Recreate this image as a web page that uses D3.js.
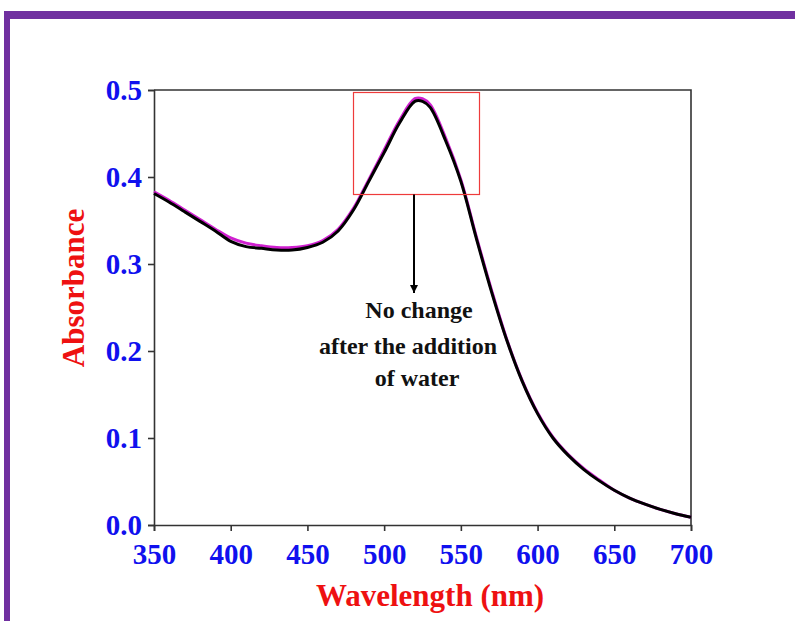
<!DOCTYPE html>
<html>
<head>
<meta charset="utf-8">
<script src="https://cdn.jsdelivr.net/npm/d3@7"></script>
<style>
    body { margin: 0; background: #fff; }
    svg { display: block; }
    text { font-family: "Liberation Serif", "Times New Roman", serif; font-weight: bold; }
</style>
</head>
<body>
<svg width="795" height="621"></svg>
<script>
let wavelengths = [350, 360, 370, 380, 390, 400, 410, 420, 430, 440, 450, 460, 470, 480, 490, 500, 510, 520, 525, 530, 540, 550, 560, 570, 580, 590, 600, 610, 620, 630, 640, 650, 660, 670, 680, 690, 700];
let absorbanceBefore = [0.383, 0.373, 0.362, 0.351, 0.340, 0.330, 0.324, 0.321, 0.319, 0.319, 0.321, 0.327, 0.340, 0.364, 0.397, 0.431, 0.465, 0.490, 0.490, 0.483, 0.445, 0.397, 0.332, 0.270, 0.213, 0.166, 0.129, 0.101, 0.081, 0.065, 0.052, 0.040, 0.031, 0.024, 0.018, 0.013, 0.009];
let absorbanceAfter = [0.381, 0.371, 0.360, 0.349, 0.338, 0.326, 0.320, 0.318, 0.316, 0.316, 0.319, 0.325, 0.338, 0.362, 0.395, 0.428, 0.462, 0.487, 0.487, 0.480, 0.442, 0.395, 0.330, 0.268, 0.212, 0.165, 0.128, 0.100, 0.080, 0.064, 0.051, 0.040, 0.031, 0.024, 0.018, 0.013, 0.009];
let xTicks = [350, 400, 450, 500, 550, 600, 650, 700];
let yTicks = [0.0, 0.1, 0.2, 0.3, 0.4, 0.5];
let noteLines = ["No change", "after the addition", "of water"];

let svg = d3.select("svg");

// purple frame, only top and left edges show
svg.append("rect").attr("x", 4).attr("y", 11).attr("width", 791).attr("height", 8).attr("fill", "#7030a0");
svg.append("rect").attr("x", 4).attr("y", 11).attr("width", 6).attr("height", 610).attr("fill", "#7030a0");

let plotLeft = 154, plotRight = 691, plotTop = 90, plotBottom = 525;
let x = d3.scaleLinear().domain([350, 700]).range([plotLeft, plotRight]);
let y = d3.scaleLinear().domain([0, 0.5]).range([plotBottom, plotTop]);

let xAxis = svg.append("g")
    .attr("transform", `translate(0, ${plotBottom})`)
    .call(d3.axisBottom(x).tickValues(xTicks).tickSize(6).tickPadding(6).tickFormat(d3.format("d")));
let yAxis = svg.append("g")
    .attr("transform", `translate(${plotLeft}, 0)`)
    .call(d3.axisLeft(y).tickValues(yTicks).tickSize(6).tickPadding(6).tickFormat(d3.format(".1f")));

for (let axis of [xAxis, yAxis]) {
    axis.attr("font-family", "Liberation Serif").attr("font-size", 29).attr("font-weight", "bold");
    axis.select(".domain").attr("stroke", "#333").attr("stroke-width", 1.6);
    axis.selectAll(".tick line").attr("stroke", "#333").attr("stroke-width", 1.6);
    axis.selectAll(".tick text").attr("fill", "#1010ee");
}
xAxis.selectAll(".tick text").attr("dy", "0.93em");
yAxis.selectAll(".tick text").attr("dy", "0.34em");

// top and right frame lines
svg.append("path")
    .attr("d", `M${plotLeft},${plotTop}H${plotRight}V${plotBottom}`)
    .attr("fill", "none").attr("stroke", "#333").attr("stroke-width", 1.6);

let line = d3.line()
    .x((d, i) => x(wavelengths[i]))
    .y(d => y(d))
    .curve(d3.curveCatmullRom.alpha(0.5));

svg.append("path").datum(absorbanceBefore)
    .attr("d", line).attr("fill", "none").attr("stroke", "#d020d0").attr("stroke-width", 3);
svg.append("path").datum(absorbanceAfter)
    .attr("d", line).attr("fill", "none").attr("stroke", "#000").attr("stroke-width", 3);

// highlight box around the peak
let boxX0 = Math.round(x(480)) + 0.5, boxX1 = Math.round(x(562)) + 0.5;
let boxY0 = Math.round(y(0.496)) - 0.5, boxY1 = Math.round(y(0.381)) + 0.5;
svg.append("rect")
    .attr("x", boxX0).attr("y", boxY0)
    .attr("width", boxX1 - boxX0).attr("height", boxY1 - boxY0)
    .attr("fill", "none").attr("stroke", "#ee3b3b").attr("stroke-width", 1.2);

svg.append("defs").append("marker")
    .attr("id", "head").attr("viewBox", "0 0 10 10")
    .attr("refX", 10).attr("refY", 5)
    .attr("markerWidth", 4).attr("markerHeight", 4)
    .attr("orient", "auto")
    .append("path").attr("d", "M0,0L10,5L0,10Z").attr("fill", "#000");

svg.append("line")
    .attr("x1", 414).attr("y1", boxY1)
    .attr("x2", 414).attr("y2", 293)
    .attr("stroke", "#000").attr("stroke-width", 2)
    .attr("marker-end", "url(#head)");

let noteX = [419, 408, 417];
let noteY = [318, 354, 386];
svg.selectAll(".note").data(noteLines).enter()
    .append("text").attr("class", "note")
    .attr("x", (d, i) => noteX[i]).attr("y", (d, i) => noteY[i])
    .attr("text-anchor", "middle")
    .attr("fill", "#111")
    .style("font-size", "24px")
    .text(d => d);

svg.append("text")
    .attr("transform", "translate(84, 288) rotate(-90)")
    .attr("text-anchor", "middle")
    .attr("fill", "#ee1111")
    .style("font-size", "31px")
    .text("Absorbance");

svg.append("text")
    .attr("x", 430).attr("y", 606)
    .attr("text-anchor", "middle")
    .attr("fill", "#ee1111")
    .style("font-size", "31px")
    .text("Wavelength (nm)");
</script>
</body>
</html>
